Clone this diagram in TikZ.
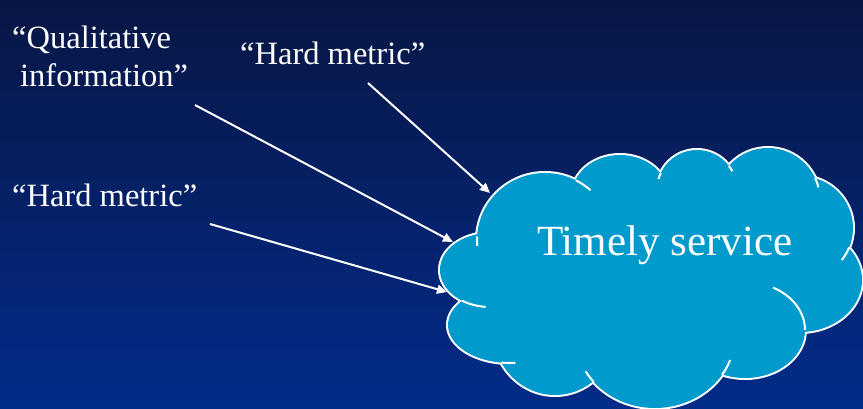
\documentclass[tikz,border=0pt]{standalone}
\usepackage{fontspec}
\setmainfont{Liberation Serif}
\usetikzlibrary{arrows.meta}
\definecolor{bgtop}{RGB}{8,22,68}
\definecolor{bgbot}{RGB}{2,44,138}
\definecolor{cloudfill}{RGB}{0,155,204}
\newcommand{\cloudstub}[6]{\draw[edge] ([shift={(#5:#3 and #4)}]#1,#2) arc[start angle=#5,end angle=#6,x radius=#3,y radius=#4];}
\begin{document}
\begin{tikzpicture}[x=1pt,y=-1pt,
  lbl/.style={text=white, inner sep=0pt, anchor=base west, font=\fontsize{32.5}{39}\selectfont},
  conn/.style={white, line width=2pt, -{Triangle[length=10pt,width=9pt]}},
  edge/.style={white, line width=2pt}]
\useasboundingbox (0,0) rectangle (863,409);
\shade[top color=bgtop,bottom color=bgbot] (0pt,0pt) rectangle (863pt,-409pt);
% cloud: outline pass
\foreach \cx/\cy/\rx/\ry in {545/240/68/67, 620/195/48/40, 697/190/40/40, 768/200/52/52, 800/228/53/52, 800/280/62/52, 745/330/60/48, 655/335/80/73, 555/330/62/65, 510/325/62/38, 490/270/50/37}
  \draw[white,line width=4pt] (\cx,\cy) ellipse[x radius=\rx,y radius=\ry];
% cloud: fill pass
\foreach \cx/\cy/\rx/\ry in {545/240/68/67, 620/195/48/40, 697/190/40/40, 768/200/52/52, 800/228/53/52, 800/280/62/52, 745/330/60/48, 655/335/80/73, 555/330/62/65, 510/325/62/38, 490/270/50/37}
  \fill[cloudfill] (\cx,\cy) ellipse[x radius=\rx,y radius=\ry];
\fill[cloudfill] (490,250) -- (560,200) -- (700,195) -- (790,210) -- (830,260) -- (800,310) -- (730,340) -- (620,360) -- (520,345) -- (480,300) -- cycle;
% inner arcs
\cloudstub{545}{240}{68}{67}{183}{175}
\cloudstub{545}{240}{68}{67}{-63}{-48}
\cloudstub{697}{190}{40}{40}{205}{196}
\cloudstub{697}{190}{40}{40}{-37}{-28}
\cloudstub{768}{200}{52}{52}{-25}{-14}
\cloudstub{800}{228}{53}{52}{22}{38}
\cloudstub{745}{330}{60}{48}{-62}{0}
\cloudstub{655}{335}{80}{73}{33}{20}
\cloudstub{655}{335}{80}{73}{140}{150}
\cloudstub{510}{325}{62}{38}{98}{85}
\cloudstub{490}{270}{50}{37}{124}{95}
% texts
\node[lbl] (q1) at (12,49) {“Qualitative};
\node[lbl] (q2) at (20,87) {information”};
\node[lbl] (h1) at (240,65) {“Hard metric”};
\node[lbl] (h2) at (12,207) {“Hard metric”};
\node[lbl, font=\fontsize{43}{50}\selectfont] (ts) at (537,255) {Timely service};
% connectors
\coordinate (a1s) at (368,83);
\coordinate (a1e) at (490,193);
\coordinate (a2s) at (195,105);
\coordinate (a2e) at (453,242);
\coordinate (a3s) at (210,224);
\coordinate (a3e) at (447,292);
\draw[conn] (a1s) -- (a1e);
\draw[conn] (a2s) -- (a2e);
\draw[conn] (a3s) -- (a3e);
\end{tikzpicture}
\end{document}
